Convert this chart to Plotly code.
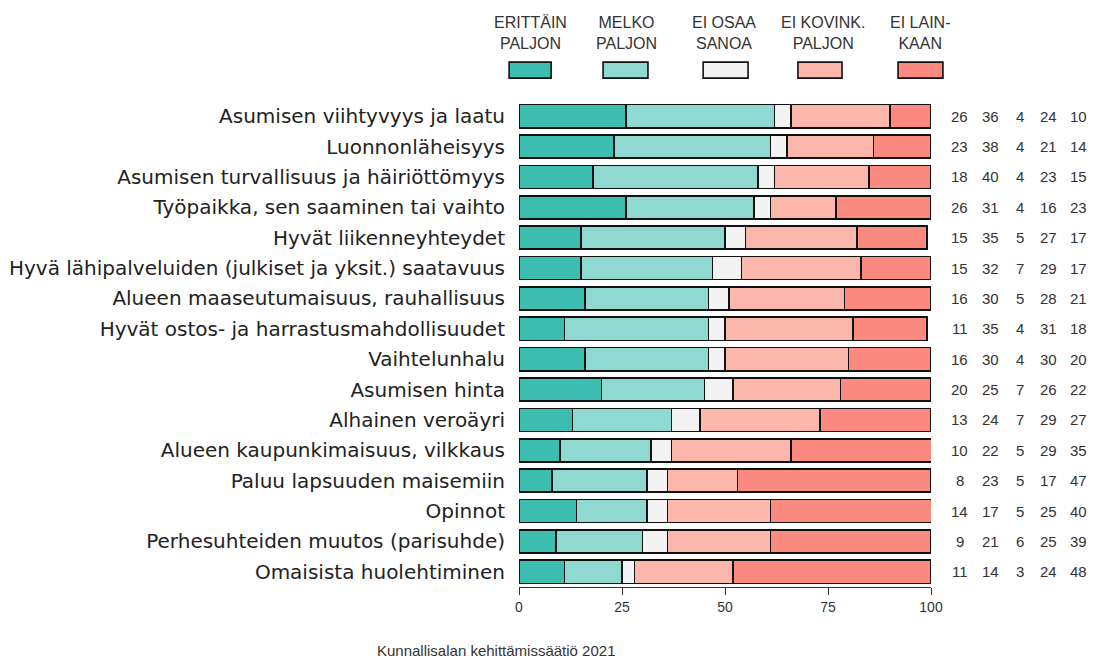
import plotly.graph_objects as go

categories = [
    "Asumisen viihtyvyys ja laatu",
    "Luonnonläheisyys",
    "Asumisen turvallisuus ja häiriöttömyys",
    "Työpaikka, sen saaminen tai vaihto",
    "Hyvät liikenneyhteydet",
    "Hyvä lähipalveluiden (julkiset ja yksit.) saatavuus",
    "Alueen maaseutumaisuus, rauhallisuus",
    "Hyvät ostos- ja harrastusmahdollisuudet",
    "Vaihtelunhalu",
    "Asumisen hinta",
    "Alhainen veroäyri",
    "Alueen kaupunkimaisuus, vilkkaus",
    "Paluu lapsuuden maisemiin",
    "Opinnot",
    "Perhesuhteiden muutos (parisuhde)",
    "Omaisista huolehtiminen",
]
erittain_paljon = [26, 23, 18, 26, 15, 15, 16, 11, 16, 20, 13, 10, 8, 14, 9, 11]
melko_paljon = [36, 38, 40, 31, 35, 32, 30, 35, 30, 25, 24, 22, 23, 17, 21, 14]
ei_osaa_sanoa = [4, 4, 4, 4, 5, 7, 5, 4, 4, 7, 7, 5, 5, 5, 6, 3]
ei_kovin_paljon = [24, 21, 23, 16, 27, 29, 28, 31, 30, 26, 29, 29, 17, 25, 25, 24]
ei_lainkaan = [10, 14, 15, 23, 17, 17, 21, 18, 20, 22, 27, 35, 47, 40, 39, 48]

series_names = ["ERITTÄIN<br>PALJON", "MELKO<br>PALJON", "EI OSAA<br>SANOA", "EI KOVINK.<br>PALJON", "EI LAIN-<br>KAAN"]
series_values = [erittain_paljon, melko_paljon, ei_osaa_sanoa, ei_kovin_paljon, ei_lainkaan]
colors = ["#3dbcb0", "#90d9d0", "#f3f3f3", "#fcb7ac", "#fa8a80"]
x_ticks = [0, 25, 50, 75, 100]
legend_text_x = [0.029, 0.260, 0.498, 0.738, 0.973]
legend_box_x = [(-0.024, 0.078), (0.204, 0.313), (0.447, 0.556), (0.677, 0.784), (0.920, 1.029)]
number_cols_x = [1.070, 1.145, 1.216, 1.286, 1.359]

FONT = "Liberation Sans, Arial, sans-serif"
LABEL_FONT = "DejaVu Sans, sans-serif"

fig = go.Figure()
for name, vals, col in zip(series_names, series_values, colors):
    fig.add_trace(go.Bar(
        y=categories, x=vals, orientation="h", name=name,
        marker=dict(color=col, line=dict(color="#111111", width=1.6)),
        showlegend=False, hoverinfo="skip",
    ))

annotations = []
for i, cat in enumerate(categories):
    for j, vals in enumerate(series_values):
        annotations.append(dict(
            x=number_cols_x[j], xref="paper", y=cat, yref="y",
            text=str(vals[i]), showarrow=False, xanchor="center", yanchor="middle",
            font=dict(family=FONT, size=15, color="#333333"),
        ))

shapes = []
for (bx0, bx1), tx, name, col in zip(legend_box_x, legend_text_x, series_names, colors):
    shapes.append(dict(
        type="rect", xref="paper", yref="paper",
        x0=bx0, x1=bx1, y0=1.047, y1=1.080,
        fillcolor=col, line=dict(color="#111111", width=1.6),
    ))
    annotations.append(dict(
        x=tx, xref="paper", y=1.096, yref="paper", text=name, showarrow=False,
        xanchor="center", yanchor="bottom",
        font=dict(family=FONT, size=16, color="#333333"),
    ))

annotations.append(dict(
    x=-0.35, xref="paper", y=-0.13, yref="paper",
    text="Kunnallisalan kehittämissäätiö 2021", showarrow=False,
    xanchor="left", yanchor="middle",
    font=dict(family=FONT, size=15, color="#333333"),
))

# the page adds an 8px body margin, so the figure is offset accordingly
fig.update_layout(
    barmode="stack",
    bargap=0.24,
    width=1090, height=652,
    margin=dict(l=511, r=167, t=93, b=73, autoexpand=False),
    paper_bgcolor="white", plot_bgcolor="white",
    font=dict(family=FONT, color="#222222"),
    annotations=annotations,
    shapes=shapes,
    hovermode=False,
)
fig.update_xaxes(
    range=[0, 100], tickvals=x_ticks, ticktext=[str(t) for t in x_ticks],
    showgrid=False, zeroline=False, showline=True, linecolor="#333333", linewidth=1.2,
    ticks="outside", ticklen=7, tickcolor="#333333", tickwidth=1.2,
    tickfont=dict(family=FONT, size=14, color="#333333"),
    automargin=False,
)
fig.update_yaxes(
    autorange="reversed", showgrid=False, zeroline=False, showline=False,
    ticks="", ticklabelstandoff=13, automargin=False,
    tickfont=dict(family=LABEL_FONT, size=20, color="#222222"),
)

fig.write_html("out.html")
